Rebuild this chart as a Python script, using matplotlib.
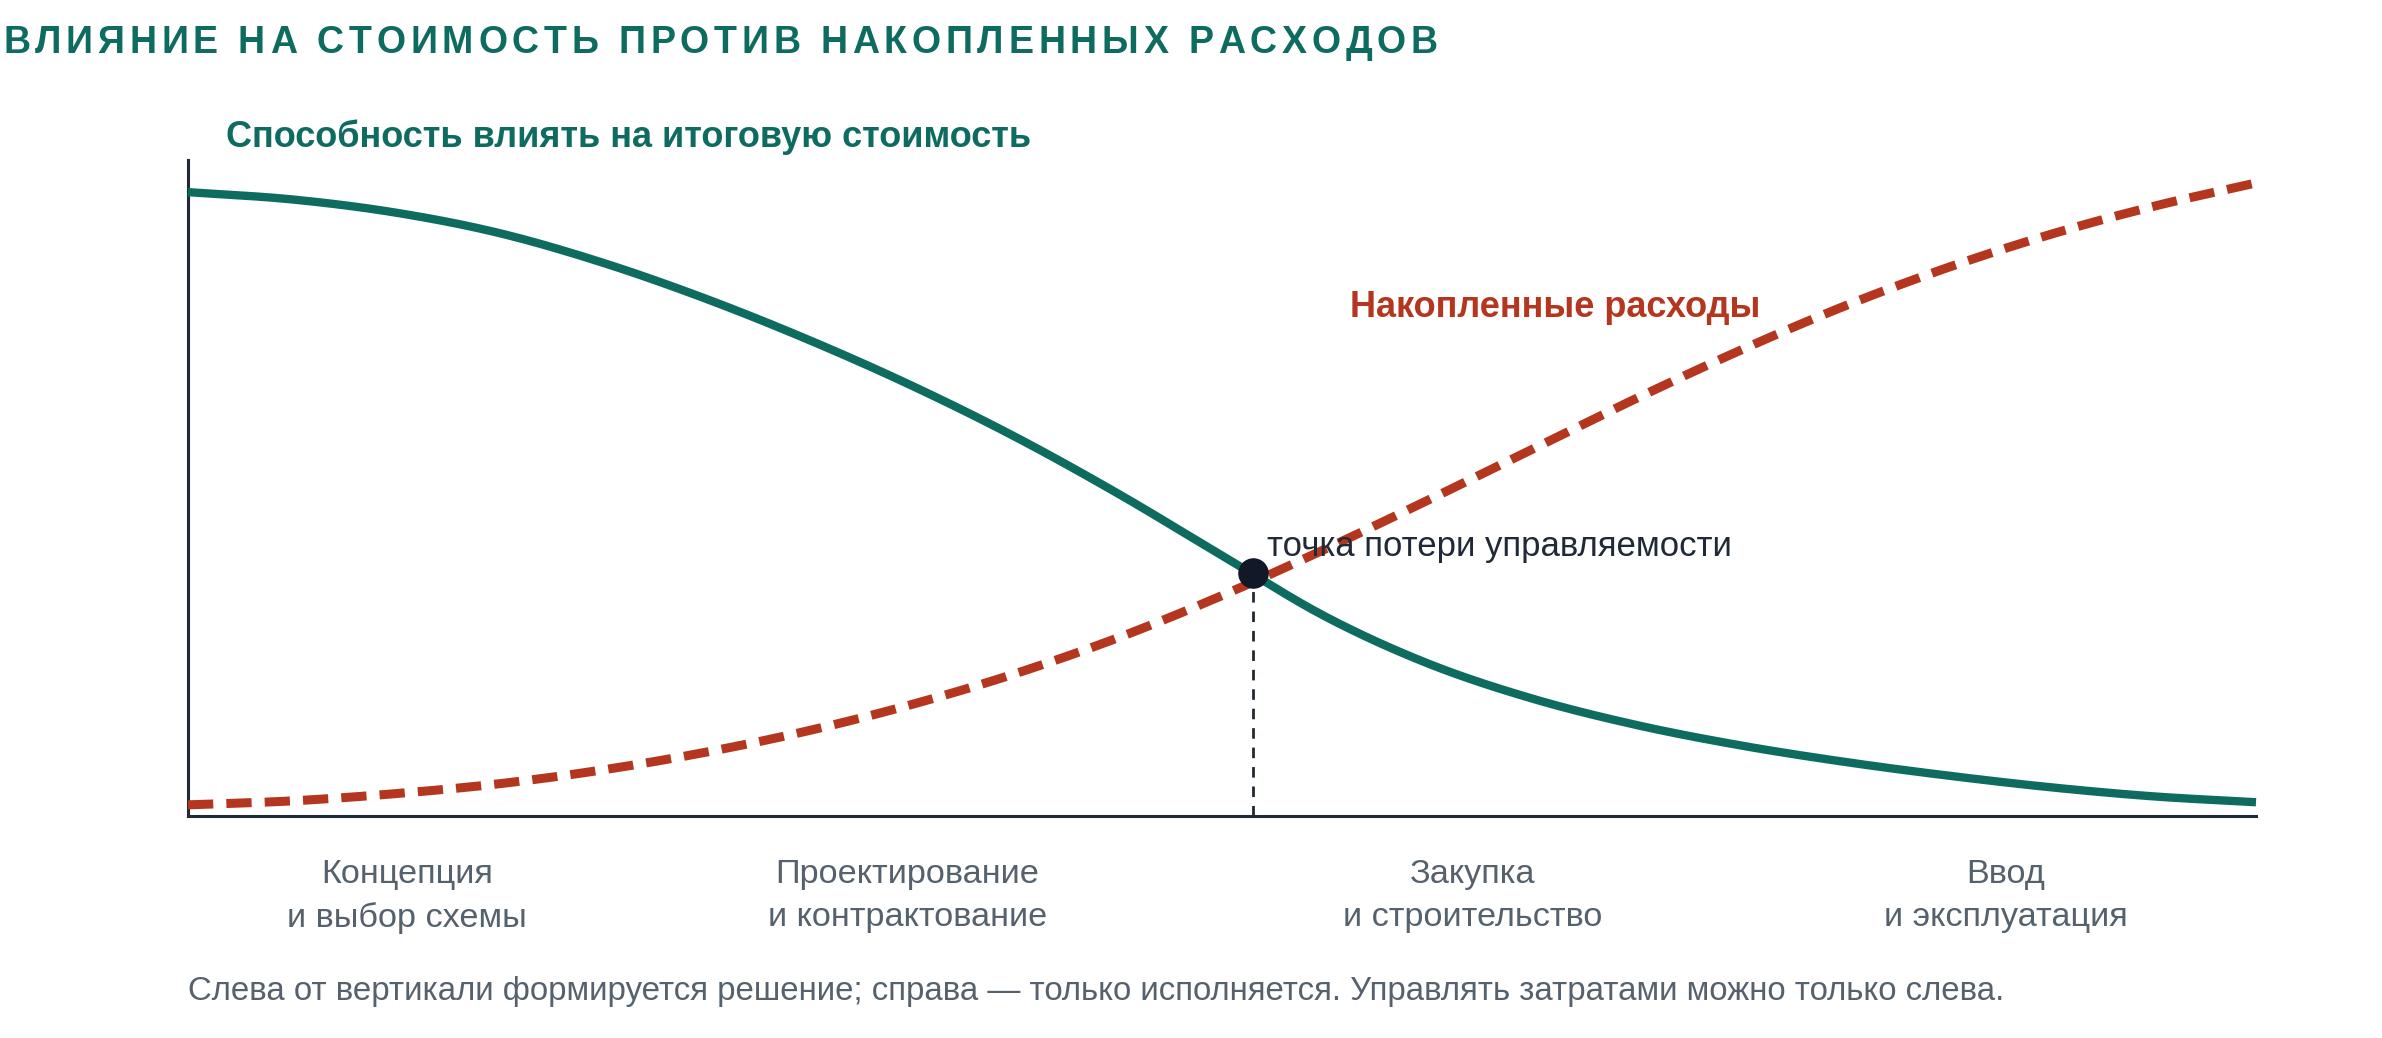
import matplotlib.pyplot as plt
import numpy as np
from matplotlib import font_manager, ft2font
from matplotlib.font_manager import FontProperties

plt.rcParams['font.family'] = ['Liberation Sans', 'DejaVu Sans']

# project progress, % of the timeline
progress = np.arange(0, 101, 5)
# ability to influence final cost (share of max)
influence = [0.951, 0.940, 0.920, 0.889, 0.844, 0.789, 0.726, 0.656, 0.578, 0.491, 0.397,
             0.304, 0.232, 0.179, 0.139, 0.108, 0.083, 0.062, 0.044, 0.030, 0.021]
# accumulated spend (share of total)
spent = [0.017, 0.023, 0.034, 0.049, 0.070, 0.097, 0.130, 0.170, 0.217, 0.272, 0.336,
         0.407, 0.482, 0.559, 0.636, 0.709, 0.776, 0.835, 0.886, 0.929, 0.965]
point_x, point_y = 51.5, 0.370

phase_pos = [10.6, 34.8, 62.1, 87.9]
phase_labels = ["Концепция\nи выбор схемы", "Проектирование\nи контрактование",
                "Закупка\nи строительство", "Ввод\nи эксплуатация"]

GREEN = '#0e6b60'
RED = '#b5361f'
INK = '#1f2937'
GREY = '#56616e'


def smooth(x, y, n=24):
	# catmull-rom through the read points, only to draw them as a smooth line
	x = np.asarray(x, float)
	y = np.asarray(y, float)
	px = np.concatenate([[2 * x[0] - x[1]], x, [2 * x[-1] - x[-2]]])
	py = np.concatenate([[2 * y[0] - y[1]], y, [2 * y[-1] - y[-2]]])
	t = np.linspace(0, 1, n, endpoint=False)
	xs, ys = [], []
	for i in range(1, len(px) - 2):
		for p, out in ((px, xs), (py, ys)):
			p0, p1, p2, p3 = p[i - 1], p[i], p[i + 1], p[i + 2]
			out.extend(0.5 * (2 * p1 + (p2 - p0) * t + (2 * p0 - 5 * p1 + 4 * p2 - p3) * t ** 2
			                  + (3 * p1 - p0 - 3 * p2 + p3) * t ** 3))
	xs.append(x[-1])
	ys.append(y[-1])
	return np.array(xs), np.array(ys)


def spaced_title(fig, s, x_px, y_px, width_px, size, color):
	prop = FontProperties(family='Liberation Sans', weight='bold', size=size)
	font = ft2font.FT2Font(font_manager.findfont(prop))
	font.set_size(size, fig.dpi)
	adv = [font.load_char(ord(c)).linearHoriAdvance / 65536 for c in s]
	gap = (width_px - sum(adv)) / (len(s) - 1)
	W, H = fig.bbox.width, fig.bbox.height
	x = x_px
	for c, a in zip(s, adv):
		fig.text(x / W, 1 - y_px / H, c, fontproperties=prop, color=color, va='baseline', ha='left')
		x += a + gap


fig = plt.figure(figsize=(23.82, 10.38), dpi=100)
ax = fig.add_axes([188 / 2382, 1 - 816 / 1038, (2256 - 188) / 2382, (816 - 160) / 1038])

gx, gy = smooth(progress, influence)
ax.plot(gx, gy, color=GREEN, lw=6, solid_capstyle='butt', clip_on=False, zorder=3)
rx, ry = smooth(progress, spent)
ax.plot(rx, ry, color=RED, lw=6.5, dashes=(2.8, 1.45), dash_capstyle='butt', clip_on=False, zorder=3)

ax.vlines(point_x, 0, point_y, colors=INK, lw=2, linestyles=(0, (3.8, 3.2)), zorder=2)
ax.plot([point_x], [point_y], 'o', color='#111827', ms=21, zorder=5)

ax.text(point_x + 0.7, point_y + 0.026, "точка потери управляемости", fontsize=25, color=INK, va='baseline')
ax.text(56.2, 0.76, "Накопленные расходы", fontsize=26, fontweight='bold', color=RED, va='baseline')

ax.set_xlim(0, 100)
ax.set_ylim(0, 1)
ax.set_xticks(phase_pos)
ax.set_xticklabels(phase_labels, fontsize=24.7, color=GREY, linespacing=1.5)
ax.tick_params(axis='x', length=0, pad=31)
ax.set_yticks([])
for side in ('top', 'right'):
	ax.spines[side].set_visible(False)
for side in ('left', 'bottom'):
	ax.spines[side].set_color(INK)
	ax.spines[side].set_linewidth(2.2)

spaced_title(fig, "ВЛИЯНИЕ НА СТОИМОСТЬ ПРОТИВ НАКОПЛЕННЫХ РАСХОДОВ", 3, 53, 1435, 27, GREEN)
fig.text(226 / 2382, 1 - 147 / 1038, "Способность влиять на итоговую стоимость",
         fontsize=26, fontweight='bold', color=GREEN, va='baseline')
fig.text(188 / 2382, 1 - 1000 / 1038,
         "Слева от вертикали формируется решение; справа — только исполняется. Управлять затратами можно только слева.",
         fontsize=23.75, color=GREY, va='baseline')

fig.savefig('out.png', dpi=100, facecolor='white')
